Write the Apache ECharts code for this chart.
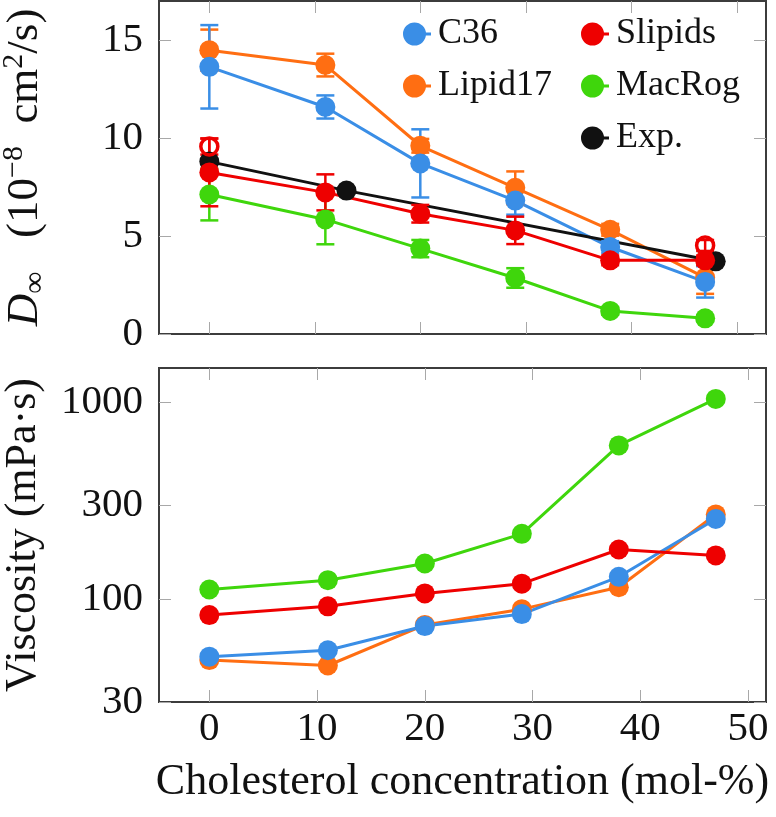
<!DOCTYPE html>
<html>
<head>
<meta charset="utf-8">
<script src="https://cdn.jsdelivr.net/npm/echarts@6/dist/echarts.min.js"></script>
<style>
html,body{margin:0;padding:0;background:#fff;}
#chart{width:776px;height:817px;}
</style>
</head>
<body>
<div id="chart"></div>
<script>
// ---------- data ----------
const xConc = [0, 11, 20, 29, 38, 47];
const xTicks = [0, 10, 20, 30, 40, 50];

// Top panel: D_inf (1e-8 cm^2/s) with symmetric error half-widths
const c36D = [13.64, 11.59, 8.71, 6.81, 4.44, 2.66];
const c36Err = [2.13, 0.59, 1.74, 0.72, 0.3, 0.8];
const lipid17D = [14.49, 13.73, 9.61, 7.46, 5.32, 2.88];
const lipid17Err = [1.05, 0.58, 0.35, 0.84, 0.3, 0.83];
const slipidsD = [8.25, 7.23, 6.14, 5.29, 3.76, 3.76];
const slipidsErr = [1.73, 0.92, 0.45, 0.70, 0.25, 0.25];
const macrogD = [7.12, 5.85, 4.36, 2.86, 1.18, 0.80];
const macrogErr = [1.32, 1.27, 0.44, 0.50, 0.2, 0.15];
const slipidsOpenX = [0, 47];
const slipidsOpenD = [9.57, 4.52];
const slipidsOpenErr = [0.41, 0.28];
const expX = [0, 13, 48];
const expD = [8.80, 7.32, 3.71];
const yTicksD = [0, 5, 10, 15];

// Bottom panel: viscosity (mPa·s)
const c36Visc = [51, 55, 73, 84, 130, 256];
const lipid17Visc = [49, 46, 74, 89, 115, 270];
const slipidsVisc = [83, 92, 107, 120, 179, 167];
const macrogVisc = [112, 125, 152, 215, 606, 1044];
const yTicksVisc = [30, 100, 300, 1000];

// ---------- styling ----------
const COL = {C36:'#3a8ee6', Lipid17:'#ff6e12', Slipids:'#ee0000', MacRog:'#3fd60c', Exp:'#111111'};
const FONT = 'Liberation Serif';
const ICON = 'path://M0,11.5 A11.5,11.5 0 1,1 23,11.5 A11.5,11.5 0 1,1 0,11.5 Z M20,10 L28,10 L28,13 L20,13 Z';
const TICK = {show:true, inside:true, length:12, lineStyle:{color:'#a8a8a8', width:1}};
const NOLINE = {show:false, onZero:false};
const VMIN = 30, VMAX = 1500;
const TICKFONT = 41;

function zip(xs, ys){ return xs.map((x,i)=>[x, ys[i]]); }
function errData(xs, ys, es){ return xs.map((x,i)=>[x, ys[i]-es[i], ys[i]+es[i]]); }
function errRender(color){
  return function(params, api){
    const x = api.value(0), lo = api.value(1), hi = api.value(2);
    const p1 = api.coord([x, hi]), p2 = api.coord([x, lo]);
    const w = 9;
    const style = {stroke: color, lineWidth: 2.5};
    return {type:'group', children:[
      {type:'line', shape:{x1:p1[0], y1:p1[1], x2:p2[0], y2:p2[1]}, style:style},
      {type:'line', shape:{x1:p1[0]-w, y1:p1[1], x2:p1[0]+w, y2:p1[1]}, style:style},
      {type:'line', shape:{x1:p2[0]-w, y1:p2[1], x2:p2[0]+w, y2:p2[1]}, style:style}
    ]};
  };
}

const series = [];
// top panel lines
[['Lipid17', lipid17D], ['C36', c36D], ['MacRog', macrogD], ['Slipids', slipidsD]].forEach(function(s){
  series.push({type:'line', xAxisIndex:0, yAxisIndex:0, data:zip(xConc, s[1]), symbol:'none',
    lineStyle:{width:3, color:COL[s[0]]}, itemStyle:{color:COL[s[0]]}, z:2, silent:true});
});
series.push({type:'line', xAxisIndex:0, yAxisIndex:0, data:zip(expX, expD), symbol:'none',
  lineStyle:{width:3, color:COL.Exp}, itemStyle:{color:COL.Exp}, z:2, silent:true});
// error bars
[['Lipid17', lipid17D, lipid17Err], ['C36', c36D, c36Err], ['MacRog', macrogD, macrogErr], ['Slipids', slipidsD, slipidsErr]].forEach(function(s){
  series.push({type:'custom', xAxisIndex:0, yAxisIndex:0, data:errData(xConc, s[1], s[2]),
    encode:{x:0, y:[1,2]}, renderItem:errRender(COL[s[0]]), z:3, silent:true});
});
series.push({type:'custom', xAxisIndex:0, yAxisIndex:0, data:errData(slipidsOpenX, slipidsOpenD, slipidsOpenErr),
  encode:{x:0, y:[1,2]}, renderItem:errRender(COL.Slipids), z:3, silent:true});
// markers
[['Lipid17', lipid17D], ['C36', c36D], ['MacRog', macrogD]].forEach(function(s){
  series.push({name:s[0], type:'scatter', xAxisIndex:0, yAxisIndex:0, data:zip(xConc, s[1]), symbol:'circle', symbolSize:20,
    itemStyle:{color:COL[s[0]], opacity:1}, z:4, silent:true});
});
series.push({name:'Exp.', type:'scatter', xAxisIndex:0, yAxisIndex:0, data:zip(expX, expD), symbol:'circle', symbolSize:20,
  itemStyle:{color:COL.Exp, opacity:1}, z:4, silent:true});
series.push({name:'Slipids', type:'scatter', xAxisIndex:0, yAxisIndex:0, data:zip(xConc, slipidsD), symbol:'circle', symbolSize:20,
  itemStyle:{color:COL.Slipids, opacity:1}, z:4, silent:true});
series.push({type:'scatter', xAxisIndex:0, yAxisIndex:0, data:zip(slipidsOpenX, slipidsOpenD), symbol:'circle', symbolSize:17,
  itemStyle:{color:'rgba(255,255,255,0)', borderColor:COL.Slipids, borderWidth:3.5, opacity:1}, z:4, silent:true});

// bottom panel
[['Lipid17', lipid17Visc], ['C36', c36Visc], ['Slipids', slipidsVisc], ['MacRog', macrogVisc]].forEach(function(s){
  series.push({name:s[0], type:'line', xAxisIndex:2, yAxisIndex:2, data:zip(xConc, s[1]), symbol:'circle', symbolSize:20,
    showSymbol:true, lineStyle:{width:3, color:COL[s[0]]}, itemStyle:{color:COL[s[0]], opacity:1}, z:2, silent:true});
});

const legendCommon = {orient:'vertical', top:11, itemWidth:28, itemHeight:23, itemGap:16, selectedMode:false,
  textStyle:{fontSize:36, color:'#111', fontFamily:FONT, fontStyle:'normal', padding:[0,0,0,2]}};

const gridCommon = {left:159, right:10, show:true, borderColor:'#3c3c3c', borderWidth:2,
  backgroundColor:'rgba(0,0,0,0)', containLabel:false, outerBoundsMode:'none'};

const option = {
  animation:false,
  textStyle:{fontFamily:FONT, fontStyle:'normal'},
  legend:[
    Object.assign({}, legendCommon, {left:398, data:[{name:'C36', icon:ICON}, {name:'Lipid17', icon:ICON}]}),
    Object.assign({}, legendCommon, {left:576, data:[{name:'Slipids', icon:ICON}, {name:'MacRog', icon:ICON}, {name:'Exp.', icon:ICON}]})
  ],
  grid:[
    Object.assign({}, gridCommon, {top:1, height:333}),
    Object.assign({}, gridCommon, {top:368, height:334})
  ],
  xAxis:[
    {gridIndex:0, type:'value', min:-4.77, max:52.77, position:'bottom', axisLine:NOLINE,
      axisTick:Object.assign({customValues:xTicks}, TICK), axisLabel:{show:false}, splitLine:{show:false}},
    {gridIndex:0, type:'value', min:-4.77, max:52.77, position:'top', axisLine:NOLINE,
      axisTick:Object.assign({customValues:xTicks}, TICK), axisLabel:{show:false}, splitLine:{show:false}},
    {gridIndex:1, type:'value', min:-4.67, max:51.66, position:'bottom', axisLine:NOLINE,
      axisTick:Object.assign({customValues:xTicks}, TICK),
      axisLabel:{show:true, customValues:xTicks, fontSize:TICKFONT, color:'#111', margin:7, fontFamily:FONT, fontStyle:'normal'},
      splitLine:{show:false},
      name:'Cholesterol concentration (mol-%)', nameLocation:'middle', nameGap:58,
      nameTextStyle:{fontSize:44, color:'#111', fontFamily:FONT, fontStyle:'normal'}},
    {gridIndex:1, type:'value', min:-4.67, max:51.66, position:'top', axisLine:NOLINE,
      axisTick:Object.assign({customValues:xTicks}, TICK), axisLabel:{show:false}, splitLine:{show:false}}
  ],
  yAxis:[
    {gridIndex:0, type:'value', min:0, max:17, interval:5, position:'left', axisLine:NOLINE,
      axisTick:Object.assign({customValues:yTicksD}, TICK),
      axisLabel:{show:true, customValues:yTicksD, fontSize:TICKFONT, color:'#111', margin:16, fontFamily:FONT, fontStyle:'normal'},
      splitLine:{show:false},
      name:'{d|D}{sub|∞}   {n|(10}{sup|−8}{n|  cm}{sup|2}{n|/s)}', nameLocation:'middle', nameGap:108, nameRotate:90,
      nameTextStyle:{fontSize:45, color:'#111', fontFamily:FONT, fontStyle:'normal', lineHeight:52,
        rich:{
          d:{fontSize:45, fontStyle:'italic', fontFamily:FONT, color:'#111', lineHeight:52},
          n:{fontSize:45, fontStyle:'normal', fontFamily:FONT, color:'#111', lineHeight:52},
          sub:{fontSize:31, fontStyle:'normal', fontFamily:FONT, color:'#111', lineHeight:31, verticalAlign:'bottom'},
          sup:{fontSize:30, fontStyle:'normal', fontFamily:FONT, color:'#111', lineHeight:30, verticalAlign:'top'}
        }}},
    {gridIndex:0, type:'value', min:0, max:17, interval:5, position:'right', axisLine:NOLINE,
      axisTick:Object.assign({customValues:yTicksD}, TICK), axisLabel:{show:false}, splitLine:{show:false}},
    // log axis carrying the data
    {gridIndex:1, type:'log', logBase:10, min:VMIN, max:VMAX, position:'left', axisLine:NOLINE,
      axisTick:{show:false}, axisLabel:{show:false}, splitLine:{show:false}, minorTick:{show:false}},
    // tick/label axes in log10 space (same extent) for the custom tick values
    {gridIndex:1, type:'value', min:Math.log10(VMIN), max:Math.log10(VMAX), position:'left', axisLine:NOLINE,
      axisTick:Object.assign({customValues:yTicksVisc.map(Math.log10)}, TICK),
      axisLabel:{show:true, customValues:yTicksVisc.map(Math.log10), fontSize:TICKFONT, color:'#111', margin:16, fontFamily:FONT, fontStyle:'normal',
        formatter:function(v){ return String(Math.round(Math.pow(10, v))); }},
      splitLine:{show:false},
      name:'Viscosity (mPa·s)', nameLocation:'middle', nameGap:114, nameRotate:90,
      nameTextStyle:{fontSize:44, color:'#111', fontFamily:FONT, fontStyle:'normal'}},
    {gridIndex:1, type:'value', min:Math.log10(VMIN), max:Math.log10(VMAX), position:'right', axisLine:NOLINE,
      axisTick:Object.assign({customValues:yTicksVisc.map(Math.log10)}, TICK), axisLabel:{show:false}, splitLine:{show:false}}
  ],
  series:series
};

const chart = echarts.init(document.getElementById('chart'), null, {renderer:'canvas'});
chart.setOption(option);
</script>
</body>
</html>
